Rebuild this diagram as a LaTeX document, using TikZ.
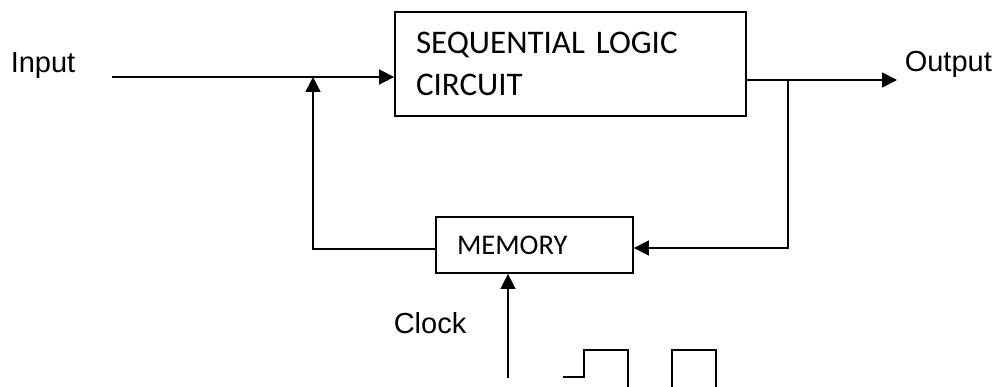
\documentclass[tikz,border=0pt]{standalone}
\usepackage{fontspec}
\setmainfont{Liberation Sans}
\newfontfamily\boxfont{Carlito}
\usetikzlibrary{arrows.meta,positioning}

\begin{document}
\begin{tikzpicture}[
  x=1pt,y=-1pt,
  ->,>={Triangle[length=15pt,width=15pt]},
  line width=1.6pt,
  block/.style={rectangle, draw, line width=1.8pt, align=left, anchor=center,
    inner xsep=21pt, inner ysep=0pt},
  label/.style={anchor=base west, inner sep=0pt, font=\fontsize{29}{34}\selectfont}
]
  \useasboundingbox (0,0) rectangle (998,387);

  % blocks
  \node[block, text width=309pt, minimum height=104pt,
    font=\boxfont\fontsize{33}{42}\selectfont] (slc) at (570.5,64)
    {SEQUENTIAL LOGIC\\CIRCUIT};
  \node[block, text width=155pt, minimum height=56pt,
    font=\boxfont\fontsize{28.5}{34}\selectfont] (mem) at (534.5,245) {MEMORY};

  % texts
  \node[label] (inlbl)  at (10,73)  {Input};
  \node[label] (outlbl) at (904,72) {Output};
  \node[label] (clklbl) at (393,333) {Clock};

  % points on the wires
  \coordinate (in)  at (112,77);
  \coordinate (j)   at (313,77);
  \coordinate (fl)  at (313,249);
  \coordinate (br)  at (788,80);
  \coordinate (out) at (897,80);
  \coordinate (fr)  at (788,248);
  \coordinate (clk) at (508,378);

  \draw (in) -- (in -| slc.west);
  \draw[-] (slc.east |- br) -- (br);
  \draw (br) -- (out);
  \draw (br) -- (fr) -- (fr -| mem.east);
  \draw (mem.west |- fl) -- (fl) -- (j);
  \draw (clk) -- (clk |- mem.south);

  % clock pulses
  \draw[-, line width=1.4pt] (563,377) -- (584,377) -- (584,350) -- (628,350) -- (628,387);
  \draw[-, line width=1.4pt] (672,387) -- (672,350) -- (716,350) -- (716,387);
\end{tikzpicture}
\end{document}
